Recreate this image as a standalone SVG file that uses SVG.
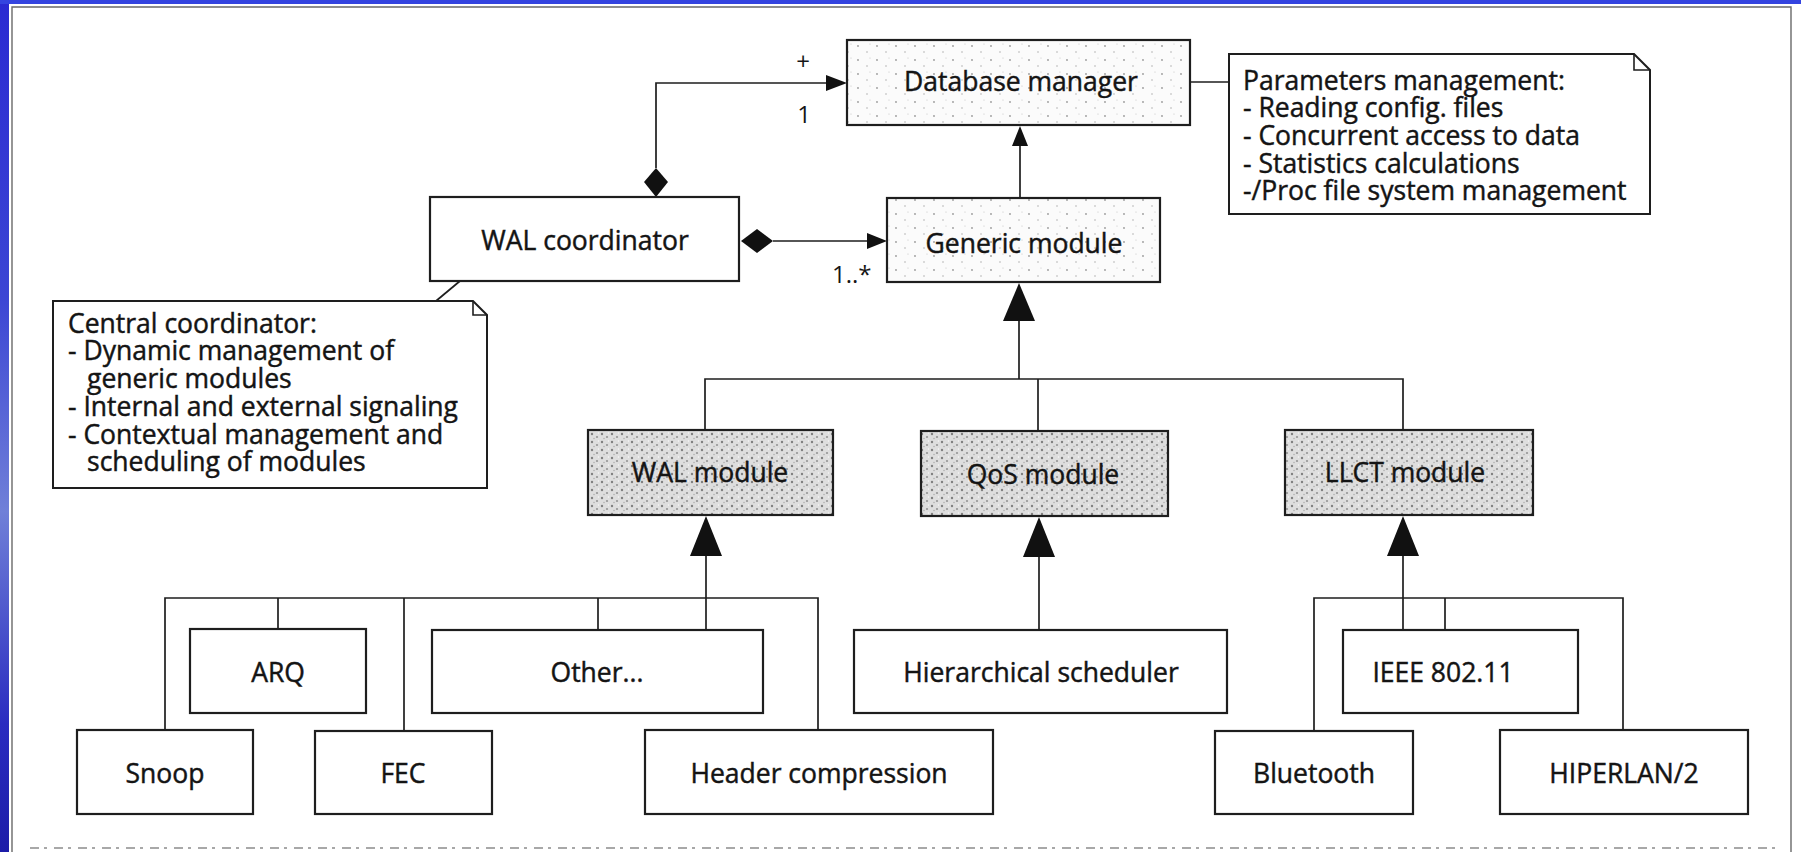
<svg xmlns="http://www.w3.org/2000/svg" width="1801" height="852" viewBox="0 0 1801 852">
<style>
.box{fill:#fff;stroke:#1e1e1e;stroke-width:2.2}
.lt{fill:url(#stipL);stroke:#1e1e1e;stroke-width:2.2}
.dk{fill:url(#stipD);stroke:#1e1e1e;stroke-width:2.2}
.note{fill:#fff;stroke:#1e1e1e;stroke-width:2}
.fold{fill:none;stroke:#1e1e1e;stroke-width:1.6}
.lbl{font-family:"Open Sans","Noto Sans","DejaVu Sans",sans-serif;font-size:26.5px;fill:#141414;stroke:#141414;stroke-width:0.45;text-anchor:middle}
.nt{font-family:"Open Sans","Noto Sans","DejaVu Sans",sans-serif;font-size:26.5px;fill:#141414;stroke:#141414;stroke-width:0.45}
.mult{font-family:"Open Sans","Noto Sans","DejaVu Sans",sans-serif;font-size:24px;fill:#161616}
.ln{fill:none;stroke:#1e1e1e;stroke-width:1.7}
.head{fill:#111;stroke:none}
</style>
<defs>
<linearGradient id="blue" x1="0" y1="0" x2="0" y2="1">
<stop offset="0" stop-color="#2a2ad2"/>
<stop offset="0.35" stop-color="#3c46d4"/>
<stop offset="0.6" stop-color="#7080d8"/>
<stop offset="0.85" stop-color="#2a2cc0"/>
<stop offset="1" stop-color="#1c1ca8"/>
</linearGradient>
<pattern id="stipL" width="19" height="14" patternUnits="userSpaceOnUse">
<rect width="19" height="14" fill="#fbfbfb"/>
<circle cx="3" cy="4" r="0.9" fill="#9a9a9a"/>
<circle cx="12" cy="10" r="0.8" fill="#b0b0b0"/>
<circle cx="15" cy="2" r="0.6" fill="#c4c4c4"/>
</pattern>
<pattern id="stipD" width="10" height="8" patternUnits="userSpaceOnUse">
<rect width="10" height="8" fill="#dedede"/>
<circle cx="2" cy="2" r="1.2" fill="#808080"/>
<circle cx="7" cy="5" r="1.1" fill="#959595"/>
<circle cx="4" cy="6.5" r="0.8" fill="#b0b0b0"/>
<circle cx="8.5" cy="1" r="0.7" fill="#f8f8f8"/>
</pattern>
</defs>

<!-- slide background and scan frame -->
<rect x="0" y="0" width="1801" height="852" fill="url(#blue)"/>
<rect x="0" y="0" width="1801" height="4" fill="#3444e0"/>
<rect x="9" y="4" width="1792" height="848" fill="#ffffff"/>
<path d="M12,852 V7 H1791 V852" fill="none" stroke="#6a6a6a" stroke-width="1.4"/>
<line x1="30" y1="848" x2="1780" y2="848" stroke="#a8a8a8" stroke-width="2" stroke-dasharray="9 5 3 7"/>

<g id="connectors">
<!-- WAL coordinator to Database manager (composition) -->
<polyline class="ln" points="656,168 656,83 828,83"/>
<polygon class="head" points="656,168 668,182 656,197 644,182"/>
<polygon class="head" points="847,83 826,75 826,91"/>
<!-- WAL coordinator to Generic module (composition) -->
<line class="ln" x1="773" y1="241" x2="870" y2="241"/>
<polygon class="head" points="741,241 757,229 773,241 757,253"/>
<polygon class="head" points="887,241 867,233 867,249"/>
<!-- Generic module to Database manager -->
<line class="ln" x1="1020" y1="198" x2="1020" y2="143"/>
<polygon class="head" points="1020,126 1012,146 1028,146"/>
<!-- Database manager to note -->
<line class="ln" x1="1190" y1="82" x2="1229" y2="82"/>
<!-- WAL coordinator to note -->
<line class="ln" x1="460" y1="281" x2="436" y2="301"/>
<!-- generalisation to Generic module -->
<polygon class="head" points="1019,283 1003,321 1035,321"/>
<line class="ln" x1="1019" y1="321" x2="1019" y2="379"/>
<polyline class="ln" points="705,430 705,379 1403,379 1403,430"/>
<line class="ln" x1="1038" y1="379" x2="1038" y2="431"/>
<!-- generalisation to WAL module -->
<polygon class="head" points="706,516 690,556 722,556"/>
<line class="ln" x1="706" y1="556" x2="706" y2="630"/>
<polyline class="ln" points="165,730 165,598 818,598 818,730"/>
<line class="ln" x1="278" y1="598" x2="278" y2="629"/>
<line class="ln" x1="404" y1="598" x2="404" y2="731"/>
<line class="ln" x1="598" y1="598" x2="598" y2="630"/>
<!-- generalisation to QoS module -->
<polygon class="head" points="1039,517 1023,557 1055,557"/>
<line class="ln" x1="1039" y1="557" x2="1039" y2="630"/>
<!-- generalisation to LLCT module -->
<polygon class="head" points="1403,516 1387,556 1419,556"/>
<line class="ln" x1="1403" y1="556" x2="1403" y2="630"/>
<polyline class="ln" points="1314,731 1314,598 1623,598 1623,730"/>
<line class="ln" x1="1445" y1="598" x2="1445" y2="630"/>
</g>

<g id="mult-labels">
<text class="mult" x="803" y="70" text-anchor="middle">+</text>
<text class="mult" x="804" y="123" text-anchor="middle">1</text>
<text class="mult" x="832" y="283">1..*</text>
</g>

<g id="database-manager">
<rect class="lt" x="847" y="40" width="343" height="85"/>
<text class="lbl" x="1021" y="91">Database manager</text>
</g>

<g id="parameters-note">
<path class="note" d="M1229,54 H1634 L1650,70 V214 H1229 Z"/>
<path class="fold" d="M1634,54 V70 H1650"/>
<text class="nt" x="1243" y="90">Parameters management:</text>
<text class="nt" x="1243" y="117">- Reading config. files</text>
<text class="nt" x="1243" y="145">- Concurrent access to data</text>
<text class="nt" x="1243" y="173">- Statistics calculations</text>
<text class="nt" x="1243" y="200">-/Proc file system management</text>
</g>

<g id="wal-coordinator">
<rect class="box" x="430" y="197" width="309" height="84"/>
<text class="lbl" x="585" y="250">WAL coordinator</text>
</g>

<g id="generic-module">
<rect class="lt" x="887" y="198" width="273" height="84"/>
<text class="lbl" x="1024" y="253">Generic module</text>
</g>

<g id="central-note">
<path class="note" d="M53,301 H473 L487,315 V488 H53 Z"/>
<path class="fold" d="M473,301 V315 H487"/>
<text class="nt" x="68" y="333">Central coordinator:</text>
<text class="nt" x="68" y="360">- Dynamic management of</text>
<text class="nt" x="87" y="388">generic modules</text>
<text class="nt" x="68" y="416">- Internal and external signaling</text>
<text class="nt" x="68" y="444">- Contextual management and</text>
<text class="nt" x="87" y="471">scheduling of modules</text>
</g>

<g id="wal-module">
<rect class="dk" x="588" y="430" width="245" height="85"/>
<text class="lbl" x="710" y="482">WAL module</text>
</g>

<g id="qos-module">
<rect class="dk" x="921" y="431" width="247" height="85"/>
<text class="lbl" x="1043" y="484">QoS module</text>
</g>

<g id="llct-module">
<rect class="dk" x="1285" y="430" width="248" height="85"/>
<text class="lbl" x="1405" y="482">LLCT module</text>
</g>

<g id="arq">
<rect class="box" x="190" y="629" width="176" height="84"/>
<text class="lbl" x="278" y="682">ARQ</text>
</g>

<g id="other">
<rect class="box" x="432" y="630" width="331" height="83"/>
<text class="lbl" x="597" y="682">Other...</text>
</g>

<g id="hierarchical-scheduler">
<rect class="box" x="854" y="630" width="373" height="83"/>
<text class="lbl" x="1041" y="682">Hierarchical scheduler</text>
</g>

<g id="ieee-80211">
<rect class="box" x="1343" y="630" width="235" height="83"/>
<text class="lbl" x="1443" y="682">IEEE 802.11</text>
</g>

<g id="snoop">
<rect class="box" x="77" y="730" width="176" height="84"/>
<text class="lbl" x="165" y="783">Snoop</text>
</g>

<g id="fec">
<rect class="box" x="315" y="731" width="177" height="83"/>
<text class="lbl" x="403" y="783">FEC</text>
</g>

<g id="header-compression">
<rect class="box" x="645" y="730" width="348" height="84"/>
<text class="lbl" x="819" y="783">Header compression</text>
</g>

<g id="bluetooth">
<rect class="box" x="1215" y="731" width="198" height="83"/>
<text class="lbl" x="1314" y="783">Bluetooth</text>
</g>

<g id="hiperlan2">
<rect class="box" x="1500" y="730" width="248" height="84"/>
<text class="lbl" x="1624" y="783">HIPERLAN/2</text>
</g>
</svg>
